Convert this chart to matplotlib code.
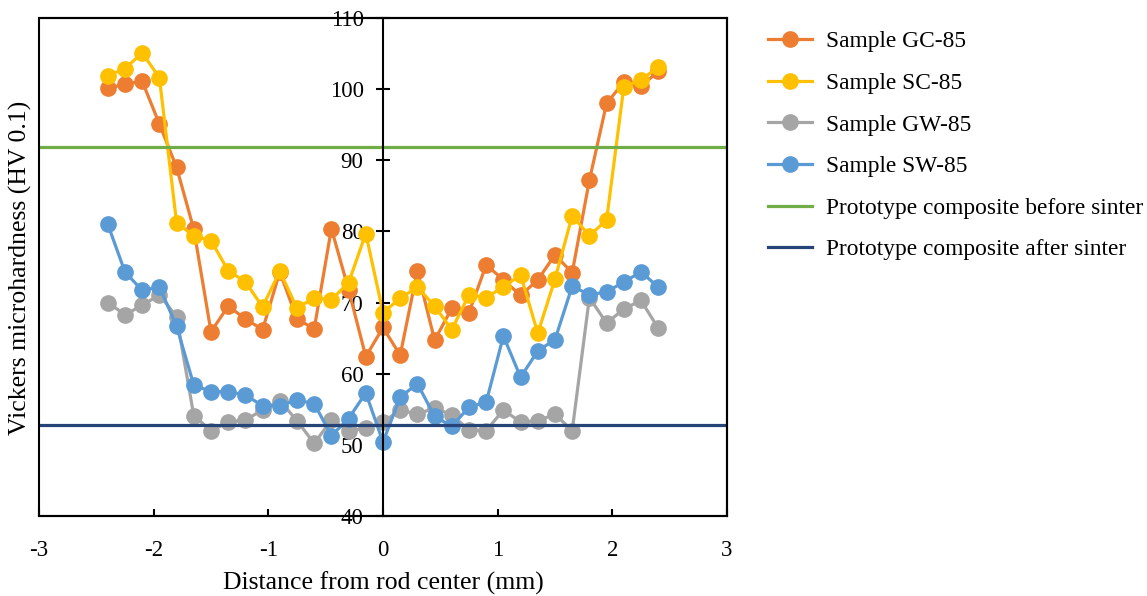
import numpy as np
import matplotlib.pyplot as plt
from matplotlib.patches import Rectangle

plt.rcParams['font.family'] = ['Liberation Serif', 'DejaVu Serif']
plt.rcParams['axes.unicode_minus'] = False

# distance from rod center (mm)
dist = [-2.4, -2.25, -2.1, -1.95, -1.8, -1.65, -1.5, -1.35, -1.2, -1.05, -0.9,
        -0.75, -0.6, -0.45, -0.3, -0.15, 0.0, 0.15, 0.3, 0.45, 0.6, 0.75, 0.9,
        1.05, 1.2, 1.35, 1.5, 1.65, 1.8, 1.95, 2.1, 2.25, 2.4]

gc85 = [100.1, 100.7, 101.1, 95.1, 89.0, 80.3, 65.9, 69.5, 67.7, 66.2, 74.3,
        67.7, 66.3, 80.4, 71.8, 62.4, 66.5, 62.6, 74.5, 64.7, 69.2, 68.6, 75.3,
        73.2, 71.0, 73.2, 76.7, 74.2, 87.2, 98.0, 101.0, 100.4, 102.5]
sc85 = [101.9, 102.9, 105.1, 101.6, 81.2, 79.4, 78.7, 74.5, 72.9, 69.4, 74.4,
        69.2, 70.7, 70.4, 72.8, 79.7, 68.6, 70.6, 72.2, 69.5, 66.2, 71.1, 70.7,
        72.2, 73.9, 65.7, 73.3, 82.2, 79.4, 81.6, 100.3, 101.3, 103.1]
gw85 = [70.0, 68.3, 69.6, 71.1, 68.0, 54.1, 52.0, 53.2, 53.5, 54.9, 56.2,
        53.4, 50.2, 53.5, 52.0, 52.3, 53.2, 54.9, 54.3, 55.2, 54.2, 52.1, 52.0,
        54.9, 53.2, 53.4, 54.3, 52.0, 70.7, 67.1, 69.1, 70.3, 66.4]
sw85 = [81.0, 74.3, 71.7, 72.2, 66.7, 58.4, 57.5, 57.5, 57.0, 55.5, 55.5,
        56.3, 55.8, 51.3, 53.7, 57.3, 50.4, 56.7, 58.6, 54.0, 52.6, 55.3, 56.0,
        65.3, 59.5, 63.2, 64.8, 72.3, 71.1, 71.5, 72.9, 74.3, 72.2]

before_sinter = 91.8
after_sinter = 52.8

fig = plt.figure(figsize=(11.47, 5.96), dpi=100)
ax = fig.add_axes([39 / 1147, 1 - 516 / 596, (727 - 39) / 1147, (516 - 18) / 596])

ms = 11
lw = 2.3
ax.plot(dist, gc85, '-o', color='#ED7D31', lw=lw, ms=ms, label='Sample GC-85')
ax.plot(dist, sc85, '-o', color='#FFC000', lw=lw, ms=ms, label='Sample SC-85')
ax.plot(dist, gw85, '-o', color='#A5A5A5', lw=lw, ms=ms, label='Sample GW-85')
ax.plot(dist, sw85, '-o', color='#5B9BD5', lw=lw, ms=ms, label='Sample SW-85')
ax.axhline(before_sinter, color='#70AD47', lw=2.3, label='Prototype composite before sinter')
ax.axhline(after_sinter, color='#264478', lw=2.3, label='Prototype composite after sinter')

ax.set_xlim(-3, 3)
ax.set_ylim(40, 110)
ax.set_xticks([-3, -2, -1, 0, 1, 2, 3])
ax.set_yticks(range(40, 111, 10))

# y axis crosses at x = 0, box drawn around plot area
ax.spines['left'].set_position(('data', 0))
ax.spines['left'].set_linewidth(1.5)
for s in ['top', 'right', 'bottom']:
    ax.spines[s].set_linewidth(1.5)
ax.add_patch(Rectangle((0, 0), 1, 1, transform=ax.transAxes, fill=False,
                       lw=1.5, edgecolor='black', clip_on=False, zorder=5))

ax.tick_params(axis='y', direction='inout', length=10, width=1.5, pad=9, labelsize=16.5)
ax.tick_params(axis='x', direction='in', length=5, width=1.5, pad=17, labelsize=16.5)

ax.set_xlabel('Distance from rod center (mm)', fontsize=18.5, labelpad=8)
fig.text(20 / 1147, 1 - 268 / 596, 'Vickers microhardness (HV 0.1)', rotation=90,
         fontsize=18.5, ha='center', va='center')

ax.legend(loc='upper left', bbox_to_anchor=(768 / 1147, 1 - 31 / 596),
          bbox_transform=fig.transFigure, frameon=False, fontsize=16.8,
          handlelength=1.9, handletextpad=0.6, labelspacing=0.87, borderpad=0,
          borderaxespad=0)

fig.savefig('out.png', dpi=100)
